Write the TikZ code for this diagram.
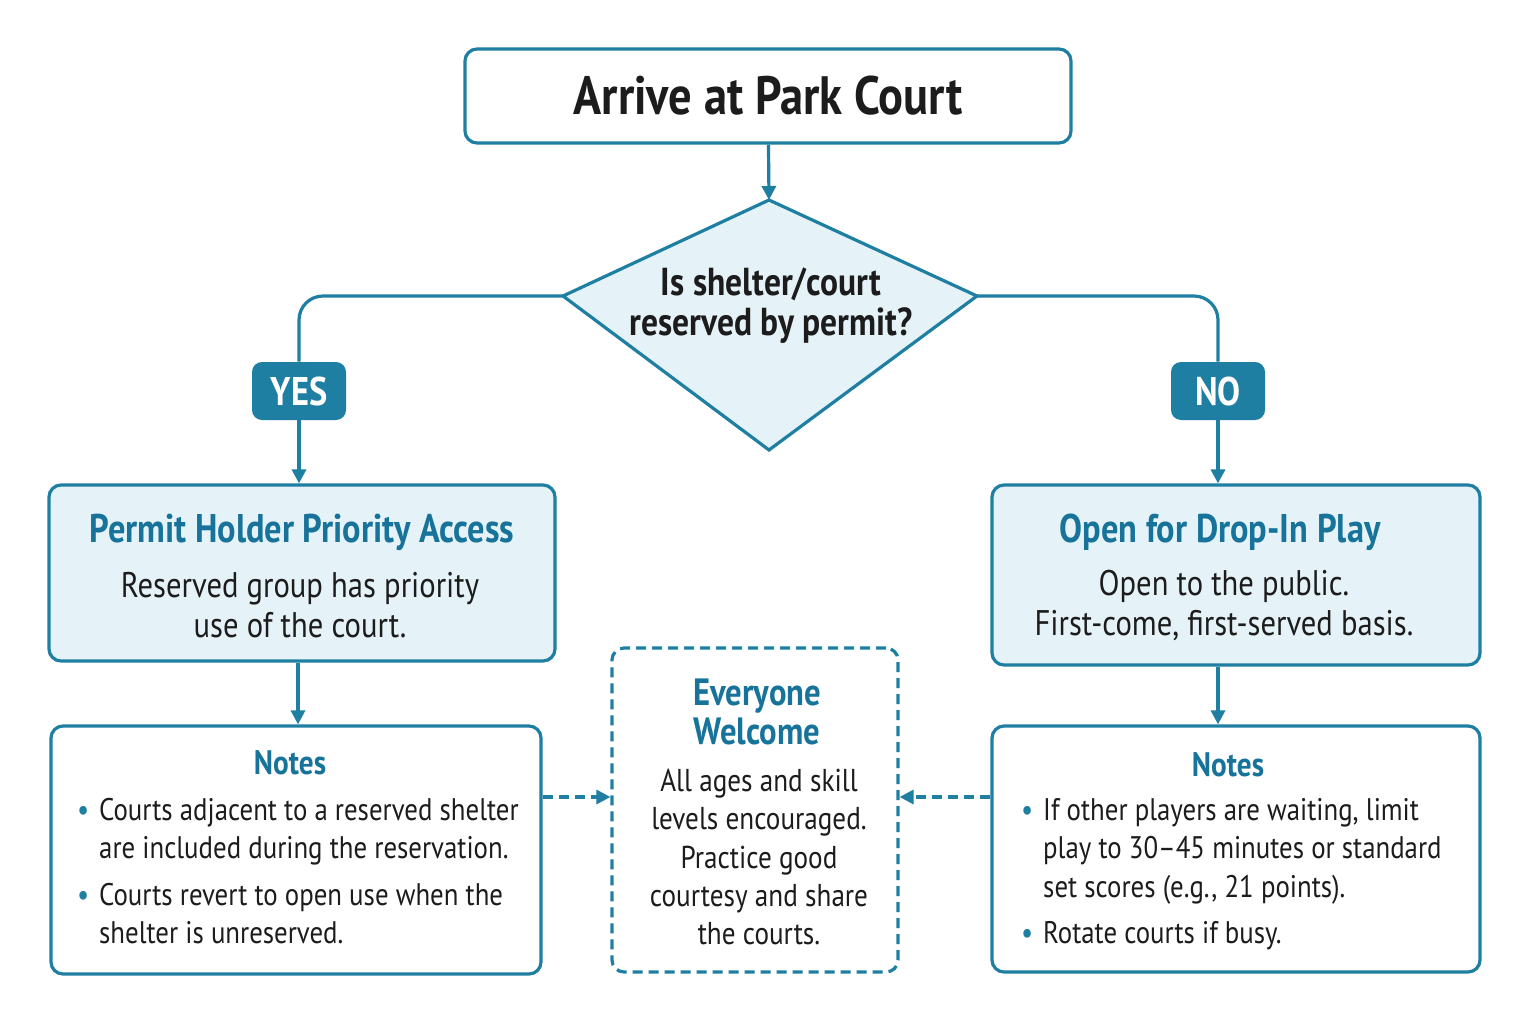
\documentclass[tikz,border=0pt]{standalone}
\usepackage{fontspec}
\setmainfont{PT Sans}[FakeStretch=0.86]
\usetikzlibrary{arrows.meta}
\definecolor{tl}{HTML}{1E7FA3}
\definecolor{tt}{HTML}{17739A}
\definecolor{lf}{HTML}{E5F2F8}
\definecolor{tx}{HTML}{1C1C1C}
\begin{document}
\begin{tikzpicture}[x=0.5pt,y=-0.5pt,
 box/.style={draw=tl,line width=1.6pt,rounded corners=6pt,inner sep=0pt},
 con/.style={draw=tl,line width=1.6pt,-{Triangle[length=7pt,width=7pt]}},
 dcon/.style={con,dashed,dash pattern=on 5pt off 3pt},
 tag/.style={fill=tl,rounded corners=5pt,text=white,font=\bfseries\fontsize{20}{22}\selectfont,minimum width=47pt,minimum height=29pt},
 ttl/.style={text=tt,font=\bfseries\fontsize{20}{22}\selectfont},
 body/.style={text=tx,font=\fontsize{17.8}{20}\selectfont,align=center},
 nb/.style={text=tx,font=\fontsize{15.6}{19.3}\selectfont,align=left}]
\useasboundingbox (0,0) rectangle (1530,1022);
\fill[white] (0,0) rectangle (1530,1022);
% top
\node[box,fill=white,minimum width=303pt,minimum height=47pt] (top) at (768,96) {};
\node[text=tx,font=\bfseries\fontsize{27}{30}\selectfont] at (top) {Arrive at Park Court};
% diamond
\coordinate (dt) at (769,200); \coordinate (dr) at (977,296);
\coordinate (db) at (769,450); \coordinate (dl) at (563,296);
\filldraw[draw=tl,fill=lf,line width=1.6pt] (dt)--(dr)--(db)--(dl)--cycle;
\node[text=tx,font=\bfseries\fontsize{19.5}{20}\selectfont,align=center] (q) at (771,306) {Is shelter/court\\reserved by permit?};
\draw[con] (top) -- (dt);
% tags
\node[tag] (yes) at (299,391) {YES};
\node[tag] (no) at (1218,391) {NO};
\draw[draw=tl,line width=1.6pt,rounded corners=12pt] (dl) -| (yes.north);
\draw[draw=tl,line width=1.6pt,rounded corners=12pt] (dr) -| (no.north);
% main boxes
\node[box,fill=lf,minimum width=253pt,minimum height=88pt] (lb) at (302,573) {};
\node[ttl] at (302,532) {Permit Holder Priority Access};
\node[body] at (300,605) {Reserved group has priority\\use of the court.};
\node[box,fill=lf,minimum width=244pt,minimum height=90pt] (rb) at (1236,575) {};
\node[ttl] at (1220,532) {Open for Drop-In Play};
\node[body] at (1224,605) {Open to the public.\\First-come, first-served basis.};
\draw[con] (yes.south) -- (yes.south|-lb.north);
\draw[con] (no.south) -- (no.south|-rb.north);
% notes
\node[box,fill=white,minimum width=245pt,minimum height=124pt] (ln) at (296,850) {};
\node[ttl,font=\bfseries\fontsize{17}{18}\selectfont] at (290,763) {Notes};
\node[box,fill=white,minimum width=244pt,minimum height=123pt] (rn) at (1236,849) {};
\node[ttl,font=\bfseries\fontsize{17}{18}\selectfont] at (1228,765) {Notes};
\draw[con] (lb.south-|298,0) -- (ln.north-|298,0);
\draw[con] (rb.south-|1218,0) -- (rn.north-|1218,0);
\node[nb,anchor=north west] at (70,786) {%
\begin{tabular}{@{}l@{\hspace{5pt}}l@{}}
\textcolor{tl}{\textbullet} & Courts adjacent to a reserved shelter\\
 & are included during the reservation.\\[4pt]
\textcolor{tl}{\textbullet} & Courts revert to open use when the\\
 & shelter is unreserved.
\end{tabular}};
\node[nb,anchor=north west] at (1014,786) {%
\begin{tabular}{@{}l@{\hspace{5pt}}l@{}}
\textcolor{tl}{\textbullet} & If other players are waiting, limit\\
 & play to 30--45 minutes or standard\\
 & set scores (e.g., 21 points).\\[4pt]
\textcolor{tl}{\textbullet} & Rotate courts if busy.
\end{tabular}};
% middle
\node[box,fill=white,dashed,dash pattern=on 5pt off 3pt,minimum width=143pt,minimum height=162pt] (mid) at (755,810) {};
\node[ttl,align=center,font=\bfseries\fontsize{19}{19.5}\selectfont] at (757,712) {Everyone\\Welcome};
\node[body,font=\fontsize{15.8}{19.2}\selectfont] at (759,857) {All ages and skill\\levels encouraged.\\Practice good\\courtesy and share\\the courts.};
\draw[dcon] (ln.east|-0,797) -- (mid.west|-0,797);
\draw[dcon] (rn.west|-0,797) -- (mid.east|-0,797);
\end{tikzpicture}
\end{document}
